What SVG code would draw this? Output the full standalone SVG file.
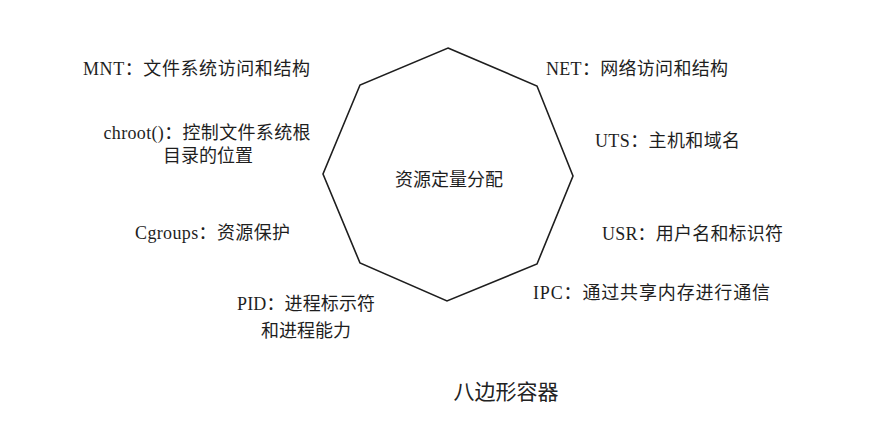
<svg xmlns="http://www.w3.org/2000/svg" width="882" height="428" viewBox="0 0 882 428">
  <style>
    .lbl { font-family: "Liberation Serif", "Noto Sans CJK SC", serif; font-size: 18px; fill: #1e1e1e; text-anchor: middle; }
    .cap { font-family: "Noto Sans CJK SC", sans-serif; font-size: 21px; fill: #222; text-anchor: middle; }
    .oct { fill: none; stroke: #1e1e1e; stroke-width: 1.6; stroke-linejoin: miter; }
  </style>
  <rect width="882" height="428" fill="#ffffff"/>
  <g id="octagon">
    <polygon class="oct" points="448,48 537,86 573,176 537,264 447,301 360,263 323,174 360,85"/>
    <text class="lbl" x="449" y="186">资源定量分配</text>
  </g>
  <g id="mnt"><text class="lbl" x="196.5" y="75" textLength="227">MNT：文件系统访问和结构</text></g>
  <g id="net"><text class="lbl" x="637" y="75" textLength="182">NET：网络访问和结构</text></g>
  <g id="uts"><text class="lbl" x="667.5" y="147" textLength="145">UTS：主机和域名</text></g>
  <g id="chroot">
    <text class="lbl" x="207" y="139" textLength="207">chroot()：控制文件系统根</text>
    <text class="lbl" x="208" y="162">目录的位置</text>
  </g>
  <g id="cgroups"><text class="lbl" x="212.5" y="239" textLength="155">Cgroups：资源保护</text></g>
  <g id="pid">
    <text class="lbl" x="306" y="310" textLength="138">PID：进程标示符</text>
    <text class="lbl" x="306" y="337">和进程能力</text>
  </g>
  <g id="usr"><text class="lbl" x="692.5" y="240" textLength="181">USR：用户名和标识符</text></g>
  <g id="ipc"><text class="lbl" x="651.5" y="299" textLength="237">IPC：通过共享内存进行通信</text></g>
  <g id="caption"><text class="cap" x="506" y="399">八边形容器</text></g>
</svg>
